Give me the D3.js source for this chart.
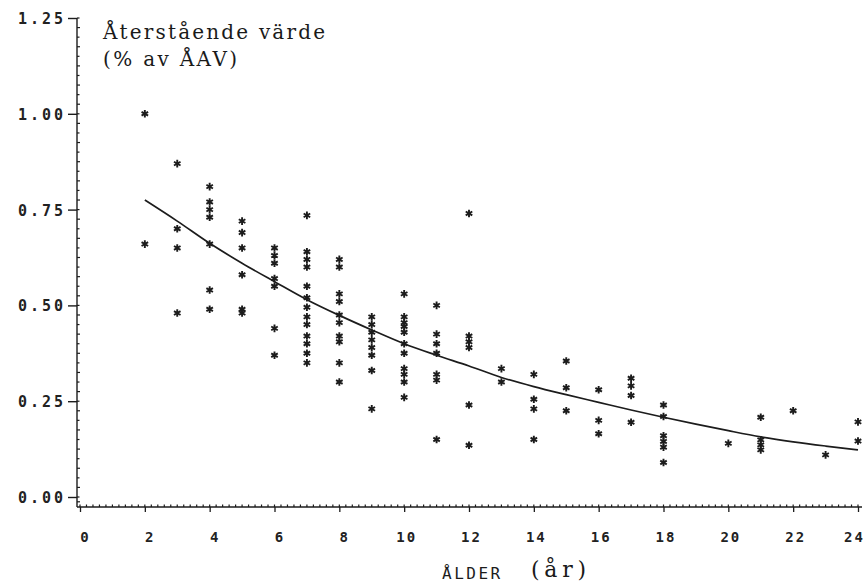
<!DOCTYPE html>
<html>
<head>
<meta charset="utf-8">
<script src="https://cdn.jsdelivr.net/npm/d3@7/dist/d3.min.js"></script>
<style>
  html, body { margin: 0; padding: 0; background: #fff; }
  svg { display: block; }
  .tick-y text { font-family: "DejaVu Sans Mono", monospace; font-weight: bold; font-size: 15px; letter-spacing: 3px; fill: #222; }
  .tick-x text { font-family: "DejaVu Sans Mono", monospace; font-weight: bold; font-size: 14px; letter-spacing: 2px; fill: #222; }
  .serif { font-family: "DejaVu Serif", "Liberation Serif", serif; fill: #1a1a1a; }
</style>
</head>
<body>
<svg id="chart" width="864" height="583"></svg>
<script>
// Observed residual values by vehicle age (years)
const sampleAges = [2, 3, 4, 5, 6, 7, 8, 9, 10, 11, 12, 13, 14, 15, 16, 17, 18, 20, 21, 22, 23, 24];
const sampleValues = [
  [1.00, 0.66],
  [0.87, 0.70, 0.65, 0.48],
  [0.81, 0.77, 0.75, 0.73, 0.66, 0.54, 0.49],
  [0.72, 0.69, 0.65, 0.58, 0.49, 0.48],
  [0.65, 0.63, 0.61, 0.57, 0.55, 0.44, 0.37],
  [0.735, 0.64, 0.62, 0.60, 0.55, 0.52, 0.495, 0.47, 0.45, 0.42, 0.40, 0.375, 0.35],
  [0.62, 0.60, 0.53, 0.51, 0.475, 0.455, 0.42, 0.405, 0.35, 0.30],
  [0.47, 0.45, 0.43, 0.41, 0.39, 0.37, 0.33, 0.23],
  [0.53, 0.47, 0.455, 0.445, 0.43, 0.40, 0.375, 0.335, 0.32, 0.30, 0.26],
  [0.50, 0.425, 0.40, 0.375, 0.32, 0.305, 0.15],
  [0.74, 0.42, 0.405, 0.39, 0.24, 0.135],
  [0.335, 0.30],
  [0.32, 0.255, 0.23, 0.15],
  [0.355, 0.285, 0.225],
  [0.28, 0.20, 0.165],
  [0.31, 0.29, 0.265, 0.195],
  [0.24, 0.21, 0.16, 0.145, 0.13, 0.09],
  [0.14],
  [0.208, 0.149, 0.136, 0.123],
  [0.225],
  [0.11],
  [0.196, 0.146]
];

// Fitted depreciation curve
const fitAges   = [2, 3, 4, 5, 6, 7, 8, 9, 10, 11, 12, 13, 14, 15, 16, 17, 18, 19, 20, 21, 22, 23, 24];
const fitValues = [0.775, 0.72, 0.662, 0.61, 0.562, 0.515, 0.474, 0.436, 0.40, 0.37, 0.342, 0.312, 0.288, 0.267, 0.247, 0.227, 0.208, 0.19, 0.173, 0.157, 0.144, 0.133, 0.123];

const xTicks = [0, 2, 4, 6, 8, 10, 12, 14, 16, 18, 20, 22, 24];
const yTicks = [0, 0.25, 0.5, 0.75, 1.0, 1.25];

const titleLines = ["Återstående värde", "(% av ÅAV)"];
const titleWidths = [222, 134];
const xTitleCaps = "ÅLDER";
const xTitleUnit = "(år)";

const svg = d3.select("#chart");
const ink = "#1c1c1c";

const x = d3.scaleLinear().domain([0, 24]).range([80, 858]);
const y = d3.scaleLinear().domain([0, 1.25]).range([497, 18]);

const axisY = 77;      // x position of vertical axis
const axisX = 507;     // y position of horizontal axis

// Vertical axis: main line, minor ticks to the right, major ticks to the left
svg.append("line")
  .attr("x1", axisY).attr("x2", axisY)
  .attr("y1", y(1.25)).attr("y2", axisX)
  .attr("stroke", ink).attr("stroke-width", 1.4);

const yMinor = d3.range(0, 1.2501, 0.025).concat([-0.0125]);
svg.append("g").selectAll("line").data(yMinor).join("line")
  .attr("x1", axisY).attr("x2", (d, i) => axisY + (i % 2 ? 3 : 2.5))
  .attr("y1", d => y(d)).attr("y2", d => y(d))
  .attr("stroke", ink).attr("stroke-width", 1.2);

const gy = svg.append("g").attr("class", "tick-y")
  .attr("transform", `translate(${axisY},0)`)
  .call(d3.axisLeft(y).tickValues(yTicks).tickFormat(d3.format(".2f")).tickSize(9).tickPadding(2));
gy.select(".domain").remove();
gy.selectAll(".tick line").attr("stroke", ink).attr("stroke-width", 1.4);
gy.selectAll(".tick text").attr("dy", "0.36em");

// Horizontal axis: main line, minor ticks upward, major ticks downward
svg.append("line")
  .attr("x1", axisY).attr("x2", 862)
  .attr("y1", axisX).attr("y2", axisX)
  .attr("stroke", ink).attr("stroke-width", 1.4);

const xMinor = d3.range(0, 24.001, 0.2);
svg.append("g").selectAll("line").data(xMinor).join("line")
  .attr("x1", d => x(d)).attr("x2", d => x(d))
  .attr("y1", axisX).attr("y2", axisX - 2.5)
  .attr("stroke", ink).attr("stroke-width", 1.2);

const gx = svg.append("g").attr("class", "tick-x")
  .attr("transform", `translate(0,${axisX})`)
  .call(d3.axisBottom(x).tickValues(xTicks).tickFormat(d3.format("d")).tickSize(5).tickPadding(20));
gx.select(".domain").remove();
gx.selectAll(".tick line").attr("stroke", ink).attr("stroke-width", 1.3);
gx.selectAll(".tick text").attr("text-anchor", "middle")
  .attr("dx", d => d < 10 ? 5 : (d === 24 ? -4 : 2));

// Fitted curve
const fitPts = fitAges.map((a, i) => [a, fitValues[i]]);
svg.append("path")
  .datum(fitPts)
  .attr("fill", "none")
  .attr("stroke", ink)
  .attr("stroke-width", 1.7)
  .attr("d", d3.line().x(d => x(d[0])).y(d => y(d[1])).curve(d3.curveMonotoneX));

// Observations as asterisk markers
const points = sampleAges.flatMap((a, i) => sampleValues[i].map(v => ({ age: a, value: v })));
const star = d3.symbol().type(d3.symbolAsterisk).size(40);
svg.append("g").selectAll("path").data(points).join("path")
  .attr("transform", d => `translate(${x(d.age)},${y(d.value)})`)
  .attr("d", star)
  .attr("fill", "none")
  .attr("stroke", ink)
  .attr("stroke-width", 1.9);

// Title in the upper left of the plot
svg.append("g").selectAll("text").data(titleLines).join("text")
  .attr("class", "serif")
  .attr("x", 103)
  .attr("y", (d, i) => 39 + i * 27)
  .attr("font-size", 20)
  .attr("textLength", (d, i) => titleWidths[i])
  .attr("lengthAdjust", "spacing")
  .text(d => d);

// Axis title
svg.append("text")
  .attr("x", 442).attr("y", 579)
  .attr("font-family", "DejaVu Sans Mono, monospace")
  .attr("font-size", 16)
  .attr("letter-spacing", "2.5px")
  .attr("fill", ink)
  .text(xTitleCaps);
svg.append("text")
  .attr("class", "serif")
  .attr("x", 531).attr("y", 577)
  .attr("font-size", 22)
  .attr("textLength", 55)
  .attr("lengthAdjust", "spacing")
  .text(xTitleUnit);
</script>
</body>
</html>
